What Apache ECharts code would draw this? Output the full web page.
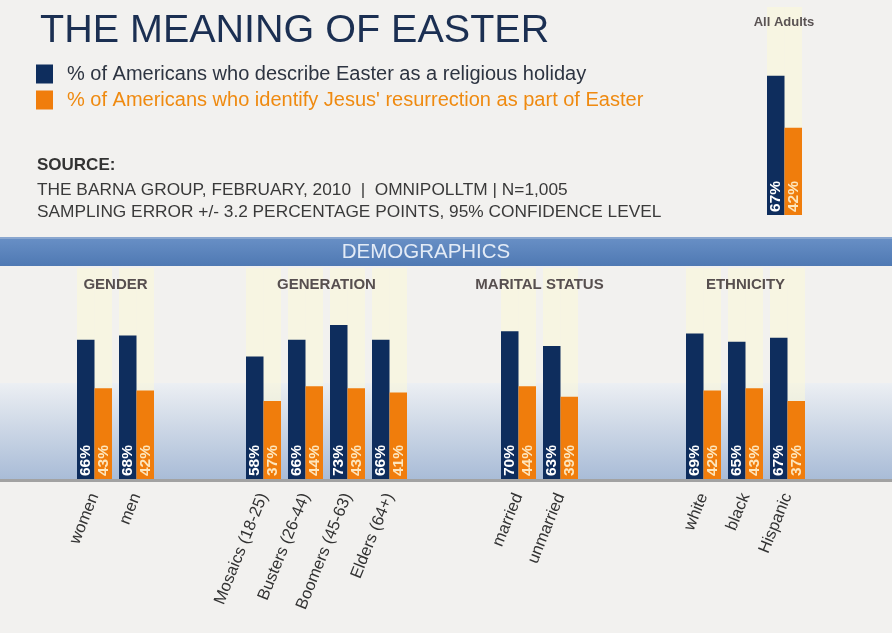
<!DOCTYPE html>
<html>
<head>
<meta charset="utf-8">
<script src="https://cdn.jsdelivr.net/npm/echarts@6/dist/echarts.min.js"></script>
<style>
  html, body { margin: 0; padding: 0; background: #f2f1ef; }
  #chart { width: 892px; height: 633px; }
</style>
</head>
<body>
<div id="chart"></div>
<script>
// 数据
const religiousName = '% of Americans who describe Easter as a religious holiday'
const resurrectionName = '% of Americans who identify Jesus\' resurrection as part of Easter'

const groupTitles = ['GENDER', 'GENERATION', 'MARITAL STATUS', 'ETHNICITY']

const genderCats = ['women', 'men']
const genderReligious = [66, 68]
const genderResurrection = [43, 42]

const generationCats = ['Mosaics (18-25)', 'Busters (26-44)', 'Boomers (45-63)', 'Elders (64+)']
const generationReligious = [58, 66, 73, 66]
const generationResurrection = [37, 44, 43, 41]

const maritalCats = ['married', 'unmarried']
const maritalReligious = [70, 63]
const maritalResurrection = [44, 39]

const ethnicityCats = ['white', 'black', 'Hispanic']
const ethnicityReligious = [69, 65, 67]
const ethnicityResurrection = [42, 43, 37]

const allCats = ['All Adults']
const allReligious = [67]
const allResurrection = [42]

const sourceLines = [
  'THE BARNA GROUP, FEBRUARY, 2010  |  OMNIPOLLTM | N=1,005',
  'SAMPLING ERROR +/- 3.2 PERCENTAGE POINTS, 95% CONFIDENCE LEVEL'
]

const FONT = '"Liberation Sans", Arial, sans-serif'
const NAVY = '#0e2d5d'
const ORANGE = '#f07d0c'

// 每组一个 grid
const groups = [
  { cats: genderCats, a: genderReligious, b: genderResurrection, left: 73.5 },
  { cats: generationCats, a: generationReligious, b: generationResurrection, left: 242.5 },
  { cats: maritalCats, a: maritalReligious, b: maritalResurrection, left: 497.5 },
  { cats: ethnicityCats, a: ethnicityReligious, b: ethnicityResurrection, left: 682.5 },
  { cats: allCats, a: allReligious, b: allResurrection, left: 763.5, top: 7, height: 208, noLabel: true }
]
const pitch = 42

let grids = [], xAxes = [], yAxes = [], series = []
groups.forEach((g, i) => {
  grids.push({
    left: g.left, top: g.top || 268, width: g.cats.length * pitch, height: g.height || 211
  })
  xAxes.push({
    type: 'category', gridIndex: i, data: g.cats,
    axisLine: { show: false }, axisTick: { show: false },
    axisLabel: {
      show: !g.noLabel, interval: 0, rotate: 68, margin: 15,
      fontFamily: FONT, fontSize: 16.5, color: '#333'
    }
  })
  yAxes.push({ type: 'value', gridIndex: i, min: 0, max: 100, show: false })
  const mk = (name, data, color, labelColor) => ({
    name: name, type: 'bar', xAxisIndex: i, yAxisIndex: i,
    data: data, barWidth: 17.5, barGap: '0%',
    itemStyle: { color: color },
    showBackground: true,
    backgroundStyle: { color: 'rgba(252,248,215,0.55)' },
    label: {
      show: true, position: 'insideBottom', rotate: 90,
      align: 'left', verticalAlign: 'middle', distance: 3,
      formatter: '{c}%', fontFamily: FONT, fontSize: 15.5, fontWeight: 'bold',
      color: labelColor
    },
    emphasis: { disabled: true }
  })
  series.push(mk(religiousName, g.a, NAVY, '#ffffff'))
  series.push(mk(resurrectionName, g.b, ORANGE, '#fde6bd'))
})

// 组标题
const headerTexts = groupTitles.map((t, i) => {
  const g = groups[i]
  return {
    type: 'text', z: 10,
    x: g.left + g.cats.length * pitch / 2, y: 285,
    style: {
      text: t, fontFamily: FONT, fontSize: 15, fontWeight: 'bold',
      fill: '#574f4f', align: 'center', verticalAlign: 'middle'
    }
  }
})

const option = {
  backgroundColor: '#f2f1ef',
  animation: false,
  title: {
    text: 'THE MEANING OF EASTER', left: 35, top: 6,
    textStyle: { fontFamily: FONT, fontSize: 39.5, fontWeight: 'normal', color: '#1b2f52' }
  },
  legend: {
    orient: 'vertical', left: 36, top: 64, padding: 0,
    itemWidth: 17, itemHeight: 19, itemGap: 6,
    icon: 'rect', selectedMode: false,
    data: [
      { name: religiousName, textStyle: { color: '#2d3441' } },
      { name: resurrectionName, textStyle: { color: '#ef8a10' } }
    ],
    textStyle: { fontFamily: FONT, fontSize: 20, padding: [0, 0, 0, 9] }
  },
  grid: grids,
  xAxis: xAxes,
  yAxis: yAxes,
  series: series,
  graphic: [
    // 渐变底色
    {
      type: 'rect', z: -10, shape: { x: 0, y: 383, width: 892, height: 96 },
      style: {
        fill: new echarts.graphic.LinearGradient(0, 0, 0, 1, [
          { offset: 0, color: '#eceff3' },
          { offset: 1, color: '#a9bcd7' }
        ])
      }
    },
    { type: 'rect', z: -5, shape: { x: 0, y: 479, width: 892, height: 3 }, style: { fill: '#a2a2a2' } },
    // DEMOGRAPHICS 条
    {
      type: 'rect', z: -5, shape: { x: 0, y: 237, width: 892, height: 29 },
      style: {
        fill: new echarts.graphic.LinearGradient(0, 0, 0, 1, [
          { offset: 0, color: '#6990c6' },
          { offset: 1, color: '#4f79b3' }
        ])
      }
    },
    { type: 'rect', z: -4, shape: { x: 0, y: 237, width: 892, height: 2 }, style: { fill: '#8aa7cf' } },
    {
      type: 'text', z: 10, x: 426, y: 252,
      style: {
        text: 'DEMOGRAPHICS', fontFamily: FONT, fontSize: 20.5,
        fill: '#e3ebf6', align: 'center', verticalAlign: 'middle'
      }
    },
    {
      type: 'text', z: 10, x: 784, y: 22,
      style: {
        text: 'All Adults', fontFamily: FONT, fontSize: 13, fontWeight: 'bold',
        fill: '#5a5353', align: 'center', verticalAlign: 'middle'
      }
    },
    {
      type: 'text', z: 10, x: 37, y: 165,
      style: { text: 'SOURCE:', fontFamily: FONT, fontSize: 17, fontWeight: 'bold', fill: '#333', verticalAlign: 'middle' }
    },
    {
      type: 'text', z: 10, x: 37, y: 190,
      style: { text: sourceLines[0], fontFamily: FONT, fontSize: 17.3, fill: '#3a3a3a', verticalAlign: 'middle' }
    },
    {
      type: 'text', z: 10, x: 37, y: 212,
      style: { text: sourceLines[1], fontFamily: FONT, fontSize: 17.3, fill: '#3a3a3a', verticalAlign: 'middle' }
    }
  ].concat(headerTexts)
}

let myChart = echarts.init(document.getElementById('chart'))
myChart.setOption(option)
</script>
</body>
</html>
